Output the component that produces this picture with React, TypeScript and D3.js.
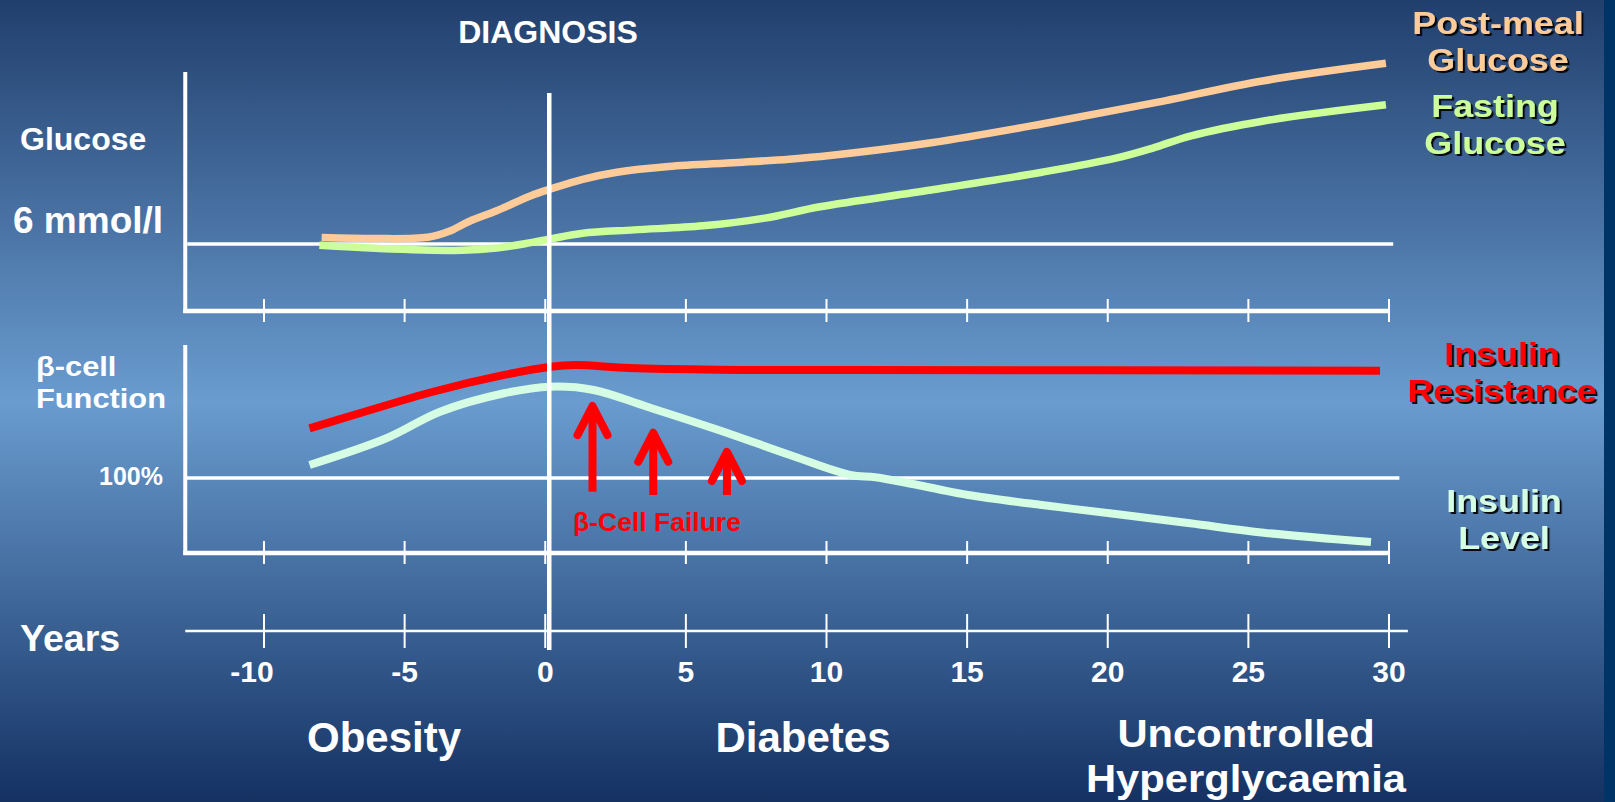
import React, { useEffect } from 'react';
import * as d3 from 'd3';

// ---------- data ----------
const yearTicks = [-10, -5, 0, 5, 10, 15, 20, 25, 30];

// [year, glucose mmol/l]
const postMealGlucose: [number, number][] = [
  [-7.95, 6.19], [-6.02, 6.16], [-4.18, 6.2], [-3.44, 6.37], [-2.71, 6.67],
  [-1.73, 6.99], [-0.51, 7.44], [0.19, 7.64], [1.33, 7.93], [2.55, 8.14],
  [4.39, 8.31], [6.84, 8.43], [8.67, 8.53], [10.12, 8.64], [13.72, 9.02],
  [17.66, 9.58], [21.6, 10.2], [25.55, 10.87], [29.89, 11.39],
];
const fastingGlucose: [number, number][] = [
  [-8.03, 5.96], [-6.02, 5.87], [-2.96, 5.81], [-1.73, 5.88], [-0.51, 6.04],
  [0.19, 6.15], [1.33, 6.32], [3.16, 6.42], [5.61, 6.54], [7.81, 6.77],
  [9.77, 7.11], [13.72, 7.61], [17.66, 8.14], [20.29, 8.56], [21.6, 8.86],
  [22.93, 9.22], [25.55, 9.67], [29.89, 10.15],
];

// [year, beta-cell function %]
const insulinResistance: [number, number][] = [
  [-8.38, 133.1], [-6.54, 143.5], [-3.99, 157.5], [-1.46, 168.7], [0.19, 174.2],
  [1.08, 175.3], [2.99, 173.3], [6.16, 172.2], [10.84, 172], [29.68, 171.5],
];
const insulinLevel: [number, number][] = [
  [-8.38, 108.7], [-5.65, 126.5], [-3.74, 144.2], [-1.46, 156.5], [0.19, 160.9],
  [1.72, 158.7], [3.62, 147.5], [6.16, 132], [8.7, 115.3], [10.84, 102],
  [11.74, 100.5], [13.06, 96], [13.98, 92.5], [15.03, 88.7], [17.66, 82],
  [20.29, 76], [22.93, 69.8], [25.55, 63.5], [29.36, 57.3],
];

// beta-cell failure arrows
const arrowYears = [1.68, 3.84, 6.46];
const arrowTips = [149.3, 131.5, 118.7];
const arrowBases = [90.9, 88.7, 88.7];

const glucoseReference = 6;
const betaReference = 100;

const FONT = "'Liberation Sans', Arial, Helvetica, sans-serif";

function MultiLine({ x, y, fill, lines, size, lead, stretch, shadow }: {
  x: number; y: number; fill: string; lines: string[]; size: number; lead: number; stretch: number; shadow?: boolean;
}) {
  return (
    <text transform={`translate(${x},${y}) scale(${stretch},1)`} fill={fill} fontFamily={FONT}
      fontWeight="bold" fontSize={size} textAnchor="middle" filter={shadow ? 'url(#shadow)' : undefined}>
      {lines.map((l, i) => (
        <tspan key={i} x={0} dy={i === 0 ? 0 : lead}>{l}</tspan>
      ))}
    </text>
  );
}

export default function App() {
  useEffect(() => {
    document.body.style.margin = '0';
  }, []);

  const W = 1615, H = 802;
  const x = d3.scaleLinear().domain([-10, 30]).range([264, 1389]);
  const g = d3.scaleLinear().domain([4, 11.1]).range([311, 73]);
  const b = d3.scaleLinear().domain([50, 100]).range([553, 478]);

  const curve = d3.curveCatmullRom.alpha(0.5);
  const lineG = d3.line<[number, number]>().x(d => x(d[0])).y(d => g(d[1])).curve(curve);
  const lineB = d3.line<[number, number]>().x(d => x(d[0])).y(d => b(d[1])).curve(curve);

  const axisLeft = x(-12.8);
  const topAxisY = g(4);
  const botAxisY = b(50);
  const yearsAxisY = 631;
  const white = '#ffffff';

  return (
    <svg width={W} height={H} style={{ position: 'absolute', left: 0, top: 0, display: 'block' }}>
      <defs>
        <linearGradient id="bg" x1="0" y1="0" x2="0" y2="1">
          <stop offset="0" stopColor="#213f6d" />
          <stop offset="0.5" stopColor="#6a9cd0" />
          <stop offset="1" stopColor="#143162" />
        </linearGradient>
        <filter id="shadow" x="-10%" y="-20%" width="130%" height="150%">
          <feDropShadow dx="2" dy="2" stdDeviation="0.3" floodColor="#000" floodOpacity="0.9" />
        </filter>
      </defs>
      <rect x={0} y={0} width={W} height={H} fill="url(#bg)" />
      <rect x={1604} y={0} width={W - 1604} height={H} fill="#003366" />

      {/* top panel axes */}
      <line x1={axisLeft} x2={axisLeft} y1={g(11.1) - 1} y2={topAxisY + 2} stroke={white} strokeWidth={4} />
      <line x1={axisLeft - 2} x2={x(30)} y1={topAxisY} y2={topAxisY} stroke={white} strokeWidth={4.5} />
      {yearTicks.map(t => (
        <line key={'tt' + t} x1={x(t)} x2={x(t)} y1={topAxisY - 12} y2={topAxisY + 11} stroke={white} strokeWidth={2} />
      ))}
      <line x1={axisLeft + 2} x2={x(30.15)} y1={g(glucoseReference)} y2={g(glucoseReference)} stroke={white} strokeWidth={3.5} />

      {/* bottom panel axes */}
      <line x1={axisLeft} x2={axisLeft} y1={b(188.7)} y2={botAxisY + 2} stroke={white} strokeWidth={4} />
      <line x1={axisLeft - 2} x2={x(30)} y1={botAxisY} y2={botAxisY} stroke={white} strokeWidth={4.5} />
      {yearTicks.map(t => (
        <line key={'bt' + t} x1={x(t)} x2={x(t)} y1={botAxisY - 12} y2={botAxisY + 11} stroke={white} strokeWidth={2} />
      ))}
      <line x1={axisLeft} x2={x(30.37)} y1={b(betaReference)} y2={b(betaReference)} stroke={white} strokeWidth={3.5} />

      {/* years axis */}
      <line x1={axisLeft} x2={x(30.67)} y1={yearsAxisY} y2={yearsAxisY} stroke={white} strokeWidth={2.5} />
      {yearTicks.map(t => (
        <line key={'yt' + t} x1={x(t)} x2={x(t)} y1={yearsAxisY - 17} y2={yearsAxisY + 17} stroke={white} strokeWidth={2} />
      ))}
      {yearTicks.map(t => (
        <text key={'yl' + t} x={x(t) - (t === -10 ? 12 : 0)} y={682} fill={white} fontFamily={FONT} fontWeight="bold" fontSize={30} textAnchor="middle">
          {t}
        </text>
      ))}

      {/* curves */}
      <path d={lineG(postMealGlucose) || ''} fill="none" stroke="#ffcc99" strokeWidth={7.5} />
      <path d={lineG(fastingGlucose) || ''} fill="none" stroke="#ccff99" strokeWidth={7.5} />
      <path d={lineB(insulinResistance) || ''} fill="none" stroke="#ff0000" strokeWidth={8} />
      <path d={lineB(insulinLevel) || ''} fill="none" stroke="#d4fde4" strokeWidth={8} />

      {/* arrows */}
      {arrowYears.map((yr, i) => {
        const ax = x(yr);
        const tip = b(arrowTips[i]);
        const base = b(arrowBases[i]);
        return (
          <g key={'ar' + i} stroke="#ff0000" strokeWidth={8} fill="none">
            <line x1={ax} x2={ax} y1={base} y2={tip + 6} />
            <polyline points={`${ax - 15},${tip + 31} ${ax},${tip + 2} ${ax + 15},${tip + 31}`} strokeLinecap="round" strokeLinejoin="round" />
          </g>
        );
      })}

      {/* diagnosis line */}
      <line x1={x(0) + 4} x2={x(0) + 4} y1={93} y2={650} stroke={white} strokeWidth={4.5} />

      {/* texts */}
      <g fontFamily={FONT} fontWeight="bold" fill={white}>
        <text x={548} y={43} fontSize={32} textAnchor="middle">DIAGNOSIS</text>
        <text x={20} y={150} fontSize={32}>Glucose</text>
        <text x={13} y={233} fontSize={37}>6 mmol/l</text>
        <text x={163} y={485} fontSize={25} textAnchor="end">100%</text>
        <text x={20} y={651} fontSize={37.5}>Years</text>
        <text x={384} y={752} fontSize={42} textAnchor="middle">Obesity</text>
        <text x={803} y={752} fontSize={42} textAnchor="middle">Diabetes</text>
      </g>
      <text transform="translate(36,376) scale(1.1,1)" fontFamily={FONT} fontWeight="bold" fill={white} fontSize={28}>
        <tspan x={0} dy={0}>β-cell</tspan>
        <tspan x={0} dy={32.5}>Function</tspan>
      </text>
      <MultiLine x={1246} y={747} fill={white} lines={['Uncontrolled', 'Hyperglycaemia']} size={39} lead={45} stretch={1.07} />
      <text x={657} y={531} fontFamily={FONT} fontWeight="bold" fontSize={26.5} fill="#ff0000" textAnchor="middle">β-Cell Failure</text>

      <MultiLine x={1498} y={34} fill="#ffcc99" lines={['Post-meal', 'Glucose']} size={32} lead={37} stretch={1.12} shadow />
      <MultiLine x={1495} y={117} fill="#ccff99" lines={['Fasting', 'Glucose']} size={32} lead={37} stretch={1.12} shadow />
      <MultiLine x={1502} y={365} fill="#ff0000" lines={['Insulin', 'Resistance']} size={32} lead={37} stretch={1.12} shadow />
      <MultiLine x={1504} y={512} fill="#d4fde4" lines={['Insulin', 'Level']} size={32} lead={37} stretch={1.12} shadow />
    </svg>
  );
}
